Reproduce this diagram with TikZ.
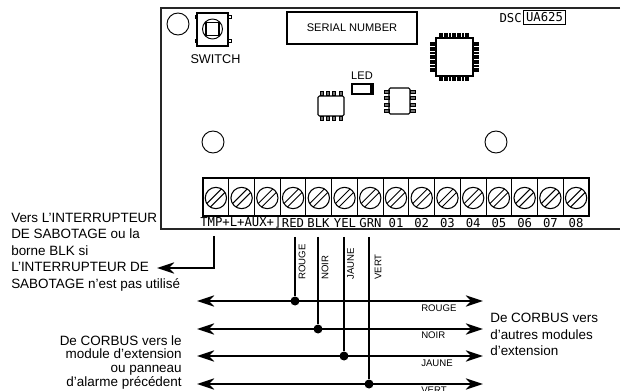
\documentclass[tikz,border=0pt]{standalone}
\usepackage{fontspec}
\setmainfont{Liberation Sans}
\newfontfamily\plotfont{DejaVu Sans Mono}
\usetikzlibrary{arrows.meta}
\tikzset{
	wire/.style={line width=1.2pt},
	bus/.style={line width=1.2pt,{Stealth[length=13pt,width=8.5pt,inset=4pt]}-{Stealth[length=13pt,width=8.5pt,inset=4pt]}},
	busdot/.style={circle,fill=black,inner sep=0pt,minimum size=9pt*0.75},
	hole/.style={circle,draw,line width=0.7pt,inner sep=0pt,minimum size=16.5pt},
	screwhole/.style={circle,draw,line width=0.8pt,inner sep=0pt,minimum size=16pt},
	pinbox/.style={draw,line width=0.5pt,fill=black!55},
	pcbtxt/.style={font=\fontsize{8.3}{10}\selectfont},
	plottxt/.style={font=\plotfont\fontsize{9.2}{10}\selectfont,inner sep=0pt},
	wiretxt/.style={font=\fontsize{7.2}{9}\selectfont,inner sep=0pt},
	note/.style={font=\fontsize{10.1}{12.35}\selectfont,inner sep=0pt}
}
\begin{document}
\begin{tikzpicture}[x=0.75pt,y=-0.75pt]
	\path[use as bounding box,clip] (0,0) rectangle (623,391);
	\draw[line width=1.2pt,black!85] (620,8)--(161,8)--(161,229)--(620,229);
%	holes
	\node[hole] (holeA) at (178,24) {};
	\node[hole] (holeB) at (213,142) {};
	\node[hole] (holeC) at (496,142) {};
%	switch
	\foreach \px/\py in {195/15,228/15,195/39,228/39}
		\draw[line width=0.5pt] (\px,\py) rectangle ++(3,3);
	\draw[line width=0.8pt,fill=white] (197,13) rectangle (228,46);
	\draw[line width=0.8pt] (206,22.5) rectangle (219,35.5);
	\draw[line width=0.7pt] (212.5,29) circle (10);
	\node[pcbtxt,font=\fontsize{9.5}{11}\selectfont] (switchtxt) at (215.5,59) {SWITCH};
%	serial number
	\node[draw,line width=0.8pt,minimum width=97.5pt,minimum height=24pt,inner sep=0pt,pcbtxt] (serial) at (352,28) {SERIAL NUMBER};
%	led
	\node[pcbtxt] (ledtxt) at (362,76) {LED};
	\draw[line width=0.8pt] (352,84) rectangle (373,94);
	\fill (370,84) rectangle (373,94);
%	chip with pins on top and bottom
	\foreach \px in {320,326,332,339} {
		\draw[pinbox] (\px,91.5) rectangle ++(3,4);
		\draw[pinbox] (\px,116.5) rectangle ++(3,4);
	}
	\draw[line width=0.8pt,rounded corners=1pt] (318,96) rectangle (344,116);
%	chip with pins on the sides
	\foreach \py in {90,96,103,109} {
		\draw[pinbox] (384,\py) rectangle ++(5,3);
		\draw[pinbox] (410,\py) rectangle ++(5,3);
	}
	\draw[line width=0.8pt,rounded corners=1pt] (389,88) rectangle (410,114);
%	big chip
	\foreach \i in {0,...,11} {
		\draw[line width=1.6pt] (439.6+2.6*\i,33)--(439.6+2.6*\i,38);
		\draw[line width=1.6pt] (439.6+2.6*\i,76)--(439.6+2.6*\i,81);
		\draw[line width=1.6pt] (430,42.6+2.6*\i)--(436,42.6+2.6*\i);
		\draw[line width=1.6pt] (473,42.6+2.6*\i)--(479,42.6+2.6*\i);
	}
	\draw[line width=0.9pt,fill=white] (436,38) rectangle (473,76);
%	model
	\node[plottxt,anchor=east] (dsc) at (522,18) {DSC};
	\node[draw,line width=0.7pt,plottxt,minimum width=32pt,minimum height=9.8pt] (model) at (544.5,17.5) {UA625};
%	terminals
	\draw[line width=0.9pt] (203,178) rectangle (589,216);
	\foreach \i in {1,...,15} {
		\pgfmathsetmacro{\tx}{203+25.73*(\i-1)}
		\pgfmathsetmacro{\sx}{\tx+12.87}
		\ifnum\i>1
			\draw[line width=0.8pt] (\tx,178)--(\tx,216);
		\fi
		\node[screwhole] (screw\i) at (\sx,198) {};
		\draw[line width=0.7pt] (\sx-5.8,198+9.3)--(\sx+9.3,198-5.8);
		\draw[line width=0.7pt] (\sx-9.3,198+5.8)--(\sx+5.8,198-9.3);
	}
	\node[plottxt,anchor=west] (tmptxt) at (200,223) {TMP+L+AUX+⌋};
	\node[plottxt] (redtxt) at (293,223) {RED};
	\node[plottxt] (blktxt) at (318.5,223) {BLK};
	\node[plottxt] (yeltxt) at (345,223) {YEL};
	\node[plottxt] (grntxt) at (370.5,223) {GRN};
	\foreach \i in {1,...,8} {
		\pgfmathsetmacro{\lx}{396+25.73*(\i-1)}
		\node[plottxt] (out\i) at (\lx,223) {0\i};
	}
%	bus
	\coordinate (tmptop) at (214,236);
	\coordinate (tmpcorner) at (214,268);
	\coordinate (tmpend) at (157,268);
	\draw[wire,-{Stealth[length=13pt,width=8.5pt,inset=4pt]}] (tmptop)--(tmpcorner)--(tmpend);
	\foreach \nm/\wx/\wy in {rouge/295/301,noir/318/329,jaune/344/356,vert/369/384} {
		\coordinate (\nm top) at (\wx,237);
		\coordinate (\nm left) at (197,\wy);
		\coordinate (\nm right) at (483,\wy);
		\node[busdot] (\nm dot) at (\wx,\wy) {};
		\draw[bus] (\nm left)--(\nm right);
		\draw[wire] (\nm top)--(\nm dot);
	}
	\node[wiretxt,rotate=90,anchor=west] at (302,280) {ROUGE};
	\node[wiretxt,rotate=90,anchor=west] at (325,280) {NOIR};
	\node[wiretxt,rotate=90,anchor=west] at (350.5,280) {JAUNE};
	\node[wiretxt,rotate=90,anchor=west] at (378,280) {VERT};
	\node[wiretxt,anchor=west] at (421,308) {ROUGE};
	\node[wiretxt,anchor=west] at (421,335) {NOIR};
	\node[wiretxt,anchor=west] at (421,363) {JAUNE};
	\node[wiretxt,anchor=west] at (421,390) {VERT};
%	notes
	\node[note,anchor=north west,align=left] (notetmp) at (11,213) {Vers L’INTERRUPTEUR\\DE SABOTAGE ou la\\borne BLK si\\L’INTERRUPTEUR DE\\SABOTAGE n’est pas utilisé};
	\node[note,anchor=north east,align=right,font=\fontsize{10.1}{10.3}\selectfont] (noteleft) at (182,335) {De CORBUS vers le\\module d’extension\\ou panneau\\d’alarme précédent};
	\node[note,anchor=north west,align=left] (noteright) at (490,313) {De CORBUS vers\\d’autres modules\\d’extension};
\end{tikzpicture}
\end{document}
